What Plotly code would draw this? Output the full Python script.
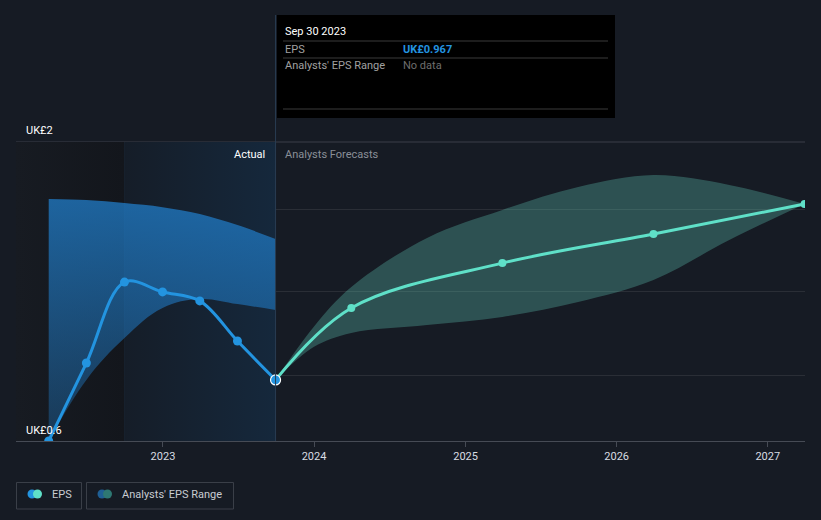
import plotly.graph_objects as go

# ---------------- data ----------------
actual_dates = ["2022-03-31", "2022-06-30", "2022-09-30", "2022-12-31",
                "2023-03-31", "2023-06-30", "2023-09-30"]
actual_eps = [0.600, 0.965, 1.344, 1.298, 1.256, 1.068, 0.886]

actual_range_upper = [1.733, 1.728, 1.714, 1.695, 1.663, 1.611, 1.546]
actual_range_lower = [0.600, 0.886, 1.082, 1.223, 1.265, 1.241, 1.213]

forecast_dates = ["2023-09-30", "2024-03-31", "2025-03-31", "2026-03-31", "2027-03-31"]
forecast_eps = [0.886, 1.223, 1.433, 1.569, 1.710]

band_dates = ["2023-09-30", "2023-12-31", "2024-03-31", "2024-09-30", "2025-03-31",
              "2025-09-30", "2026-03-31", "2026-09-30", "2027-03-31"]
band_upper = [0.886, 1.134, 1.321, 1.551, 1.682, 1.789, 1.845, 1.799, 1.710]
band_lower = [0.886, 1.040, 1.106, 1.143, 1.181, 1.251, 1.354, 1.541, 1.710]

year_ticks = ["2023-01-01", "2024-01-01", "2025-01-01", "2026-01-01", "2027-01-01"]
year_labels = ["2023", "2024", "2025", "2026", "2027"]

y_min, y_max = 0.6, 2.0
y_label_top, y_label_bottom = "UK£2", "UK£0.6"
grid_vals = [0.909, 1.298, 1.686]

x_start, x_end = "2022-01-11", "2027-04-01"
past_start, now_date = "2022-09-30", "2023-09-30"

tooltip_title = "Sep 30 2023"
tooltip_eps = "UK£0.967"

# ---------------- geometry helpers ----------------
W, H = 821, 520
L, R, T, B = 16, 805, 142, 441


def px(x):
    return (x - L) / (R - L)


def py(y):
    return (B - y) / (B - T)


BG = "#161b24"
BLUE = "#2394e0"
TEAL = "#5fe0c8"
FONT = "Roboto, Arial, sans-serif"

fig = go.Figure()

# background regions
fig.add_trace(go.Scatter(
    x=[x_start, past_start, past_start, x_start], y=[y_min, y_min, y_max, y_max],
    mode="lines", line=dict(width=0), fill="toself",
    fillgradient=dict(type="horizontal",
                      colorscale=[[0, "#171b22"], [1, "#13161c"]]),
    hoverinfo="skip", showlegend=False))
fig.add_trace(go.Scatter(
    x=[past_start, now_date, now_date, past_start], y=[y_min, y_min, y_max, y_max],
    mode="lines", line=dict(width=0), fill="toself",
    fillgradient=dict(type="horizontal",
                      colorscale=[[0, "#151d28"], [1, "#15283c"]]),
    hoverinfo="skip", showlegend=False))

# actual range band
fig.add_trace(go.Scatter(
    x=actual_dates, y=actual_range_lower, mode="lines",
    line=dict(width=0, shape="spline", smoothing=1.1),
    hoverinfo="skip", showlegend=False))
fig.add_trace(go.Scatter(
    x=actual_dates, y=actual_range_upper, mode="lines",
    line=dict(width=0, shape="spline", smoothing=1.0), fill="tonexty",
    fillgradient=dict(type="vertical", start=y_min, stop=1.75,
                      colorscale=[[0, "rgba(33,130,210,0.30)"],
                                  [1, "rgba(33,130,210,0.72)"]]),
    hoverinfo="skip", showlegend=False))

# forecast range band
fig.add_trace(go.Scatter(
    x=band_dates, y=band_lower, mode="lines",
    line=dict(width=0, shape="spline", smoothing=1.0),
    hoverinfo="skip", showlegend=False))
fig.add_trace(go.Scatter(
    x=band_dates, y=band_upper, mode="lines",
    line=dict(width=0, shape="spline", smoothing=1.0), fill="tonexty",
    fillcolor="rgba(100,210,190,0.30)",
    hoverinfo="skip", showlegend=False))

# forecast line
fig.add_trace(go.Scatter(
    x=forecast_dates, y=forecast_eps, mode="lines+markers",
    line=dict(color=TEAL, width=3, shape="spline", smoothing=1.0),
    marker=dict(color=TEAL, size=8),
    hoverinfo="skip", showlegend=False))

# actual line
fig.add_trace(go.Scatter(
    x=actual_dates, y=actual_eps, mode="lines+markers",
    line=dict(color=BLUE, width=3, shape="spline", smoothing=1.0),
    marker=dict(color=BLUE, size=9),
    hoverinfo="skip", showlegend=False))
fig.add_trace(go.Scatter(
    x=[actual_dates[-1]], y=[actual_eps[-1]], mode="markers",
    marker=dict(color=BLUE, size=10, line=dict(color="white", width=1.2)),
    hoverinfo="skip", showlegend=False))

shapes = []
annotations = []

# vertical lines
shapes.append(dict(type="line", xref="x", yref="paper", x0=past_start, x1=past_start,
                   y0=0, y1=1, line=dict(color="#1c3248", width=1), layer="below"))
shapes.append(dict(type="line", xref="x", yref="paper", x0=now_date, x1=now_date,
                   y0=0, y1=py(15), line=dict(color="#283c52", width=1), layer="above"))
# top gridline
shapes.append(dict(type="line", xref="paper", yref="paper", x0=0, x1=1, y0=1, y1=1,
                   line=dict(color="#3a3f48", width=1), layer="below"))

# tooltip
shapes.append(dict(type="rect", xref="paper", yref="paper",
                   x0=px(277), x1=px(615), y0=py(118), y1=py(15),
                   fillcolor="#000000", line=dict(width=0), layer="above"))
for yy in (41, 58, 109):
    shapes.append(dict(type="line", xref="paper", yref="paper",
                       x0=px(283), x1=px(608), y0=py(yy), y1=py(yy),
                       line=dict(color="#3b3b3b", width=1), layer="above"))


def text(x, y, s, color, size=11, anchor="left", bold=False):
    if bold:
        s = "<b>" + s + "</b>"
    annotations.append(dict(xref="paper", yref="paper", x=px(x), y=py(y), text=s,
                            showarrow=False, xanchor=anchor, yanchor="middle",
                            font=dict(family=FONT, size=size, color=color)))


text(283, 31, tooltip_title, "#ffffff", 11)
text(283, 49, "EPS", "#a0a0a0", 11)
text(401, 49, tooltip_eps, BLUE, 11, bold=True)
text(283, 66, "Analysts' EPS Range", "#a0a0a0", 11)
text(401, 66, "No data", "#6e6e6e", 11)

# y labels
text(24, 130, y_label_top, "#ffffff", 11)
text(24, 430, y_label_bottom, "#ffffff", 11)

# section labels
text(267, 154, "Actual", "#ffffff", 11, anchor="right")
text(283, 154, "Analysts Forecasts", "#8a8f98", 11)

# legend
shapes.append(dict(type="rect", xref="paper", yref="paper",
                   x0=px(16.5), x1=px(81.5), y0=py(509), y1=py(482.5),
                   line=dict(color="#3a3f48", width=1), fillcolor="rgba(0,0,0,0)"))
shapes.append(dict(type="rect", xref="paper", yref="paper",
                   x0=px(86.5), x1=px(233.5), y0=py(509), y1=py(482.5),
                   line=dict(color="#3a3f48", width=1), fillcolor="rgba(0,0,0,0)"))


def dot(cx, cy, r, color):
    shapes.append(dict(type="circle", xref="paper", yref="paper",
                       x0=px(cx - r), x1=px(cx + r), y0=py(cy + r), y1=py(cy - r),
                       fillcolor=color, line=dict(width=0)))


dot(32, 494, 4.5, BLUE)
dot(37.5, 494, 4.5, TEAL)
dot(102, 494, 4.5, "#1f5f95")
dot(107.5, 494, 4.5, "#2e7873")
text(50, 494, "EPS", "#c8ccd2", 11)
text(120, 494, "Analysts' EPS Range", "#c8ccd2", 11)

fig.update_layout(
    width=W, height=H,
    margin=dict(l=L, r=W - R, t=T, b=H - B, pad=0),
    paper_bgcolor=BG, plot_bgcolor=BG,
    showlegend=False, hovermode=False,
    shapes=shapes, annotations=annotations,
    font=dict(family=FONT, color="#d0d4da", size=11),
    xaxis=dict(type="date", range=[x_start, x_end], showgrid=False, zeroline=False,
               showline=True, linecolor="#464b55", linewidth=1,
               ticks="outside", ticklen=5, tickcolor="#464b55",
               tickvals=year_ticks, ticktext=year_labels,
               tickfont=dict(family=FONT, size=11, color="#d8dce2")),
    yaxis=dict(range=[y_min, y_max], showgrid=True, gridcolor="#2a2e36", gridwidth=1,
               zeroline=False, showline=False, tickvals=grid_vals,
               showticklabels=False, ticks=""),
)

fig.write_html("out.html")
